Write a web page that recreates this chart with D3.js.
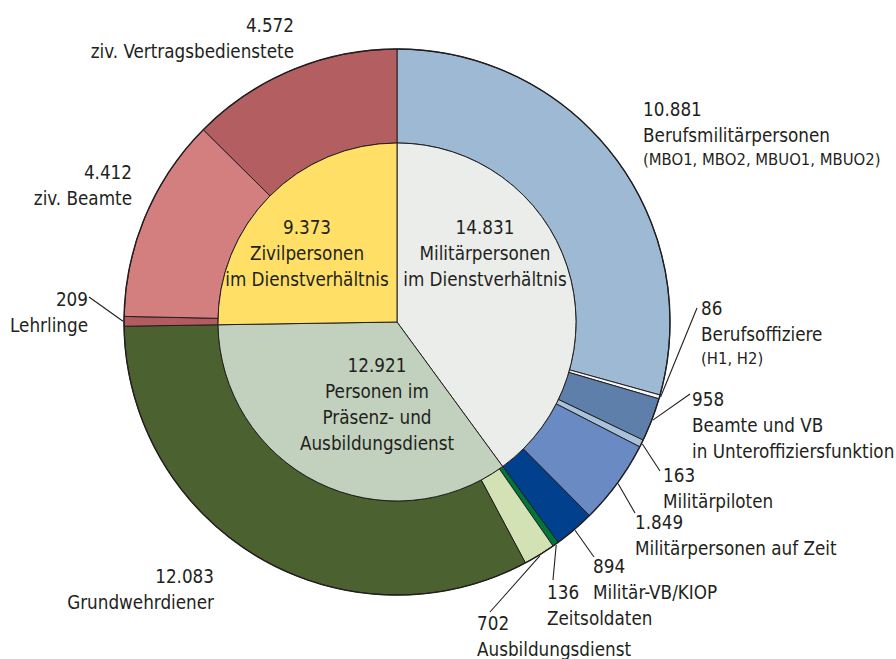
<!DOCTYPE html>
<html>
<head>
<meta charset="utf-8">
<script src="https://cdn.jsdelivr.net/npm/d3@7"></script>
<style>
  body { margin: 0; background: #fff; }
  svg text { font-family: "DejaVu Sans Condensed", "DejaVu Sans", sans-serif; font-stretch: condensed; fill: #231f20; }
</style>
</head>
<body>
<div id="chart"></div>
<script>
// Innerer Kreis
const innerCategories = ["Militärpersonen\nim Dienstverhältnis", "Personen im\nPräsenz- und\nAusbildungsdienst", "Zivilpersonen\nim Dienstverhältnis"];
const innerValues = [14831, 12921, 9373];
const innerColors = ["#ebedeb", "#c1d1bd", "#ffdf66"];

// Äußerer Ring
const outerCategories = ["Berufsmilitärpersonen", "Berufsoffiziere", "Beamte und VB\nin Unteroffiziersfunktion", "Militärpiloten",
  "Militärpersonen auf Zeit", "Militär-VB/KIOP", "Zeitsoldaten", "Ausbildungsdienst", "Grundwehrdiener",
  "Lehrlinge", "ziv. Beamte", "ziv. Vertragsbedienstete"];
const outerNotes = ["(MBO1, MBO2, MBUO1, MBUO2)", "(H1, H2)", "", "", "", "", "", "", "", "", "", ""];
const outerValues = [10881, 86, 958, 163, 1849, 894, 136, 702, 12083, 209, 4412, 4572];
const outerParent = [0, 0, 0, 0, 0, 0, 1, 1, 1, 2, 2, 2];
const outerColors = ["#9db9d3", "#f4f6f8", "#5f7fab", "#a9c2db", "#6a8ac4", "#00408c",
  "#00773a", "#d2e2b4", "#4b612f", "#b35c5f", "#d37f80", "#b35e60"];

const width = 896, height = 659;
const cx = 397, cy = 322, R = 273, r0 = 179;

// Beschriftungen (Position der ersten Zeile)
const innerLabelPos = [[485, 234], [377, 372], [307, 234]];
const outerLabelPos = [
  { x: 643, y: 116, a: "start" },
  { x: 701, y: 315, a: "start", lx: 697, ly: 308 },
  { x: 692, y: 406, a: "start", lx: 690, ly: 394 },
  { x: 663, y: 482, a: "start", lx: 660, ly: 471 },
  { x: 635, y: 529, a: "start", lx: 635, ly: 513 },
  { x: 593, y: 573, a: "start", lx: 594, ly: 557 },
  { x: 547, y: 599, a: "start", lx: 553, ly: 580 },
  { x: 477, y: 630, a: "start", lx: 490, ly: 612 },
  { x: 214, y: 583, a: "end" },
  { x: 88, y: 306, a: "end", lx: 89, ly: 297 },
  { x: 132, y: 179, a: "end" },
  { x: 294, y: 32, a: "end" }
];

const de = d3.formatLocale({ decimal: ",", thousands: ".", grouping: [3], currency: ["", " €"] });
const fmt = de.format(",d");

const svg = d3.select("#chart").append("svg")
  .attr("width", width)
  .attr("height", height);

const g = svg.append("g").attr("transform", `translate(${cx},${cy})`);

const pie = d3.pie().sort(null).value(d => d);
const innerArcs = pie(innerValues);

// Unterteilung jedes inneren Segments im Verhältnis der Unterwerte
const outerArcs = [];
innerArcs.forEach((p, i) => {
  const idx = outerParent.map((q, j) => q === i ? j : -1).filter(j => j >= 0);
  const sub = idx.map(j => outerValues[j]);
  const ang = d3.scaleLinear().domain([0, d3.sum(sub)]).range([p.startAngle, p.endAngle]);
  let acc = 0;
  idx.forEach(j => {
    outerArcs[j] = { index: j, startAngle: ang(acc), endAngle: ang(acc + outerValues[j]) };
    acc += outerValues[j];
  });
});

const arcOuter = d3.arc().innerRadius(r0).outerRadius(R);
const arcInner = d3.arc().innerRadius(0).outerRadius(r0);

g.selectAll("path.outer")
  .data(outerArcs)
  .enter()
    .append("path")
    .attr("class", "outer")
    .attr("d", arcOuter)
    .attr("fill", d => outerColors[d.index])
    .attr("stroke", "#231f20")
    .attr("stroke-width", 1)
    .attr("stroke-linejoin", "round");

g.append("circle").attr("r", R).attr("fill", "none").attr("stroke", "#231f20").attr("stroke-width", 1.4);

g.selectAll("path.inner")
  .data(innerArcs)
  .enter()
    .append("path")
    .attr("class", "inner")
    .attr("d", arcInner)
    .attr("fill", (d, i) => innerColors[i])
    .attr("stroke", "#231f20")
    .attr("stroke-width", 1);

// Führungslinien
const mid = d => (d.startAngle + d.endAngle) / 2;
outerArcs.forEach(d => {
  const p = outerLabelPos[d.index];
  if (p.lx === undefined) return;
  const a = mid(d);
  svg.append("line")
    .attr("x1", cx + (R + 1) * Math.sin(a))
    .attr("y1", cy - (R + 1) * Math.cos(a))
    .attr("x2", p.lx)
    .attr("y2", p.ly)
    .attr("stroke", "#231f20")
    .attr("stroke-width", 1.1);
});

const lineH = 26, noteH = 23;

function addLabel(x, y, anchor, value, cat, note) {
  const t = svg.append("text").attr("text-anchor", anchor).attr("font-size", 18.7);
  t.append("tspan").attr("x", x).attr("y", y).text(fmt(value));
  let yy = y;
  cat.split("\n").forEach(s => {
    yy += lineH;
    t.append("tspan").attr("x", x).attr("y", yy).text(s);
  });
  if (note) {
    yy += noteH;
    t.append("tspan").attr("x", x).attr("y", yy).attr("font-size", 16.5).text(note);
  }
}

innerArcs.forEach((d, i) => {
  addLabel(innerLabelPos[i][0], innerLabelPos[i][1], "middle", innerValues[i], innerCategories[i], "");
});
outerArcs.forEach(d => {
  const p = outerLabelPos[d.index];
  addLabel(p.x, p.y, p.a, outerValues[d.index], outerCategories[d.index], outerNotes[d.index]);
});
</script>
</body>
</html>
